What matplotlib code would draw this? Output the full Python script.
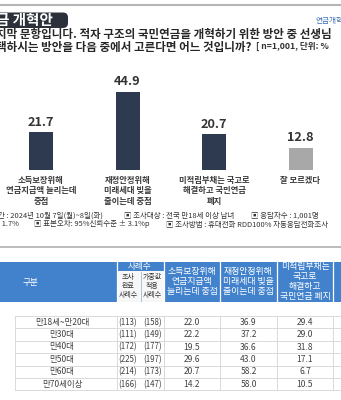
import matplotlib
matplotlib.use("Agg")
from matplotlib import pyplot as plt
from matplotlib.patches import Rectangle, FancyBboxPatch

plt.rcParams['font.family'] = ['Noto Sans CJK KR', 'DejaVu Sans']

# 막대그래프 데이터
categories = ['소득보장위해\n연금지급액 늘리는데\n중점',
              '재정안정위해\n미래세대 빚을\n줄이는데 중점',
              '미적립부채는 국고로\n해결하고 국민연금\n폐지',
              '잘 모르겠다']
values = [21.7, 44.9, 20.7, 12.8]
bar_colors = ['#2e3a4f', '#2e3a4f', '#2e3a4f', '#a8a8a8']

# 연령별 표 데이터
age_groups = ['만18세~만20대', '만30대', '만40대', '만50대', '만60대', '만70세이상']
n_done = [113, 111, 172, 225, 214, 166]
n_weighted = [158, 149, 177, 197, 173, 147]
col_income = [22.0, 22.2, 19.5, 29.6, 20.7, 14.2]
col_finance = [36.9, 37.2, 36.6, 43.0, 58.2, 58.0]
col_abolish = [29.4, 29.0, 31.8, 17.1, 6.7, 10.5]
table_heads = ['소득보장위해\n연금지급액\n늘리는데 중점',
               '재정안정위해\n미래세대 빚을\n줄이는데 중점',
               '미적립부채는\n국고로\n해결하고\n국민연금 폐지']

W, H = 341, 400
fig = plt.figure(figsize=(W / 100, H / 100), dpi=100)
fig.patch.set_facecolor('white')

# 픽셀 좌표용 배경 axes (y는 위에서 아래로)
bg = fig.add_axes([0, 0, 1, 1])
bg.set_xlim(0, W)
bg.set_ylim(H, 0)
bg.axis('off')

# 상단 선, 제목 배지
bg.plot([0, W], [5, 5], color='#b5b5b5', lw=1.5)
bg.add_patch(FancyBboxPatch((-12, 12.5), 80, 15.5, boxstyle='round,pad=0,rounding_size=5',
                            fc='#2b303b', ec='none'))
bg.text(-4, 20.5, '금 개혁안', color='white', fontsize=10.5, fontweight='bold',
        va='center', ha='left')
bg.text(316, 21, '연금개혁안', color='#3a6db4', fontsize=5.5, va='center', ha='left')

# 질문 (두 줄)
bg.text(-4, 41, '지막 문항입니다. 적자 구조의 국민연금을 개혁하기 위한 방안 중 선생님\n'
        '택하시는 방안을 다음 중에서 고른다면 어느 것입니까?',
        fontsize=8.3, fontweight='bold', color='#262626', va='center', ha='left',
        linespacing=1.0)
bg.text(256, 46.5, '[ n=1,001, 단위: %', fontsize=6.2, fontweight='bold', color='#333333',
        va='center', ha='left')

# 막대그래프
ax = fig.add_axes([0, 230 / H, 1, 110 / H])
ax.set_xlim(-41 / 86.5, (W - 41) / 86.5)
ax.set_ylim(0, 110 / 1.74)
ax.axis('off')
xs = list(range(len(values)))
ax.bar(xs, values, width=24 / 86.5, color=bar_colors)
for x, v, cat in zip(xs, values, categories):
    ax.annotate(f'{v:.1f}', (x, v), xytext=(0, 2.5), textcoords='offset points',
                ha='center', va='bottom', fontsize=9.2, fontweight='bold', color='#333333')
    ax.text(x, -3.3, cat, ha='center', va='top', fontsize=6,
            fontweight='bold', color='#3a3a3a', linespacing=1.25, clip_on=False)

# 조사 개요
foot = '#333333'
fs = 5.4
bg.text(-2, 216, '간 : 2024년 10월 7일(월)~8일(화)', fontsize=fs, color=foot, va='center')
bg.text(124, 216, '▣ 조사대상 : 전국 만18세 이상 남녀', fontsize=fs, color=foot, va='center')
bg.text(251, 216, '▣ 응답자수 : 1,001명', fontsize=fs, color=foot, va='center')
bg.text(-2, 224.5, ': 1.7%', fontsize=fs, color=foot, va='center')
bg.text(34, 224.5, '▣ 표본오차: 95%신뢰수준 ± 3.1%p', fontsize=fs, color=foot, va='center')
bg.text(166, 224.5, '▣ 조사방법 : 휴대전화 RDD100% 자동응답전화조사', fontsize=fs,
        color=foot, va='center')
bg.plot([0, W], [247, 247], color='#b0b0b0', lw=1.2)

# 표 헤더
blue = '#4282cc'
bg.add_patch(Rectangle((0, 262), W, 40, fc=blue, ec='none'))
bg.add_patch(Rectangle((117, 271), 46.5, 30.5, fc='#f7f7f7', ec='none'))
bg.plot([141, 141], [272, 301], color='#9fb8d8', lw=0.6)
for xe in [116.5, 164, 220, 277, 333]:
    bg.plot([xe, xe], [262, 302], color='white', lw=0.9)
bg.text(30, 282, '구분', color='white', fontsize=6.2, ha='center', va='center')
bg.text(140, 266.5, '사례수', color='white', fontsize=6.2, ha='center', va='center')
bg.text(128.5, 286, '조사\n완료\n사례수', color='#333333', fontsize=5, ha='center',
        va='center', linespacing=1.15)
bg.text(152.5, 286, '가중값\n적용\n사례수', color='#333333', fontsize=5, ha='center',
        va='center', linespacing=1.15)
for cx, head in zip([192, 248.5, 305], table_heads):
    bg.text(cx, 281.5, head, color='white', fontsize=6.4, ha='center', va='center',
            linespacing=1.1)

# 표 본문
grid = '#d4d4d4'
row_top, row_h = 316, 12.4
n_rows = len(age_groups)
for k in range(n_rows + 1):
    y = row_top + k * row_h
    bg.plot([15, W], [y, y], color=grid, lw=0.6)
for xe in [15, 116.5, 164, 220, 277, 333]:
    bg.plot([xe, xe], [row_top, row_top + n_rows * row_h], color=grid, lw=0.6)

txt = '#404040'
rs = 6.1
for i in range(n_rows):
    y = row_top + (i + 0.5) * row_h
    bg.text(62, y, age_groups[i], fontsize=rs, color=txt, ha='center', va='center')
    bg.text(128, y, f'({n_done[i]})', fontsize=5.7, color=txt, ha='center', va='center')
    bg.text(152.5, y, f'({n_weighted[i]})', fontsize=5.7, color=txt, ha='center', va='center')
    bg.text(192, y, f'{col_income[i]:.1f}', fontsize=rs, color=txt, ha='center', va='center')
    bg.text(248.5, y, f'{col_finance[i]:.1f}', fontsize=rs, color=txt, ha='center', va='center')
    bg.text(305, y, f'{col_abolish[i]:.1f}', fontsize=rs, color=txt, ha='center', va='center')

fig.savefig('out.png', dpi=100, facecolor='white')
